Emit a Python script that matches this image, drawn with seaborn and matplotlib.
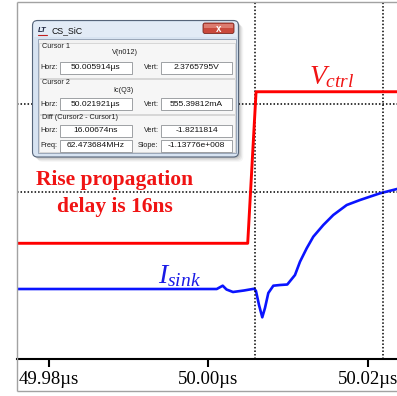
import matplotlib
matplotlib.use("Agg")
import matplotlib.pyplot as plt
import seaborn as sns
import pandas as pd
from matplotlib.patches import FancyBboxPatch, Rectangle

# ---- waveform data (time in microseconds) ----
vctrl_time = [49.975, 50.00495, 50.00600, 50.0245]
vctrl_volts = [0.0, 0.0, 2.58, 2.58]

isink_time = [49.975, 50.00106, 50.00181, 50.00229, 50.00310, 50.00448,
              50.00578, 50.00599, 50.00637, 50.00678, 50.00712, 50.00754,
              50.00817, 50.00901, 50.00992, 50.01089, 50.01152, 50.01236,
              50.01319, 50.01445, 50.01570, 50.01739, 50.01906, 50.02157,
              50.02371, 50.0245]
isink_ma = [0.0, 0.0, 19.0, -2.9, -17.2, -8.6,
            1.7, -11.5, -91.9, -162.5, -109.1, -23.0,
            19.0, 23.0, 25.8, 80.4, 156.8, 233.8,
            300.4, 367.6, 425.0, 482.4, 511.2, 549.7,
            574.4, 578.0]

# cursor readouts
cursor_time = [50.005914, 50.021921]
cursor1_volts = 2.3765795
cursor2_ma = 555.39812

tick_values = [49.98, 50.00, 50.02]
tick_labels = ["49.98µs", "50.00µs", "50.02µs"]

readout_rows = [
    ("Horz:", "50.005914µs", "Vert:", "2.3765795V"),
    ("Horz:", "50.021921µs", "Vert:", "555.39812mA"),
    ("Horz:", "16.00674ns", "Vert:", "-1.8211814"),
    ("Freq:", "62.473684MHz", "Slope:", "-1.13776e+008"),
]

sns.set_style("white")
plt.rcParams["font.family"] = ["Liberation Serif", "DejaVu Sans"]
plt.rcParams["mathtext.fontset"] = "custom"
plt.rcParams["mathtext.it"] = "Liberation Serif:italic"
plt.rcParams["mathtext.rm"] = "Liberation Serif"

W, H = 397, 396
fig = plt.figure(figsize=(W / 100, H / 100), dpi=100)
fig.patch.set_facecolor("white")

# plot area: x from 17 px to the right edge, y from 2 px to 359 px
ax = fig.add_axes([17 / W, (H - 359) / H, (W - 17) / W, (359 - 2) / H])
ax2 = ax.twinx()
ax.set_zorder(ax2.get_zorder() + 1)
ax.patch.set_visible(False)

df_v = pd.DataFrame({"t": vctrl_time, "v": vctrl_volts})
df_i = pd.DataFrame({"t": isink_time, "i": isink_ma})

dot = dict(color="black", lw=1.1, linestyle=(0, (1, 1.3)), zorder=1)
for ct in cursor_time:
    ax.axvline(ct, **dot)
ax.axhline(cursor1_volts, **dot)
ax2.axhline(cursor2_ma, **dot)

sns.lineplot(data=df_v, x="t", y="v", ax=ax, color="#ff0000", lw=2.1,
             estimator=None, zorder=3)
sns.lineplot(data=df_i, x="t", y="i", ax=ax2, color="#0a14ff", lw=1.9,
             estimator=None, zorder=3)

ax.set_xlim(49.975967, 50.023706)
ax.set_ylim(-1.970, 4.108)
ax2.set_ylim(-402.0, 1648.4)

for a in (ax, ax2):
    a.set_xlabel("")
    a.set_ylabel("")
    for s in a.spines.values():
        s.set_visible(False)
ax.spines["bottom"].set_visible(True)
ax.spines["bottom"].set_color("black")
ax.spines["bottom"].set_linewidth(1.5)
ax.set_yticks([])
ax2.set_yticks([])
ax.set_xticks(tick_values)
ax.set_xticklabels(tick_labels)
ax.tick_params(axis="x", direction="out", length=6, width=1.5, pad=3,
               labelsize=13.5, colors="black", bottom=True)

# ---- overlay in pixel coordinates ----
ov = fig.add_axes([0, 0, 1, 1], zorder=10)
ov.set_xlim(0, W)
ov.set_ylim(H, 0)
ov.axis("off")

# window frame of the waveform viewer
frame = dict(color="#a2a2a2", lw=1.0, solid_capstyle="butt")
ov.plot([16.5, 16.5], [1.5, 390.5], **frame)
ov.plot([16.5, W], [1.5, 1.5], **frame)
ov.plot([16.5, W], [390.5, 390.5], **frame)

# annotations
ov.text(115, 185, "Rise propagation", ha="center", va="baseline",
        color="#f01414", fontsize=15.5, fontweight="bold")
ov.text(115, 212, "delay is 16ns", ha="center", va="baseline",
        color="#f01414", fontsize=15.5, fontweight="bold")
ov.text(309, 84, r"$V_{ctrl}$", ha="left", va="baseline",
        color="#f01414", fontsize=20)
ov.text(158, 283, r"$I_{sink}$", ha="left", va="baseline",
        color="#1a1ae6", fontsize=20)

# ---- cursor readout dialog ----
sans = "Liberation Sans"
# drop shadow
for k, al in enumerate([0.10, 0.08, 0.06, 0.04]):
    off = 1.2 + k * 1.2
    ov.add_patch(FancyBboxPatch((32.5 + off, 20.5 + off), 206, 136.5,
                                boxstyle="round,pad=0,rounding_size=5",
                                fc="black", ec="none", alpha=al, zorder=1))
# outer window
ov.add_patch(FancyBboxPatch((32.5, 20.5), 206, 136.5,
                            boxstyle="round,pad=0,rounding_size=5",
                            fc="#d7e3f1", ec="#56657a", lw=0.8, zorder=2))
ov.add_patch(Rectangle((34, 22), 203, 15, fc="#e2ebf6", ec="none", zorder=2))
# title bar
ov.text(37.5, 31, "LT", fontsize=5.5, fontweight="bold", style="italic",
        color="#1d2540", family=sans, va="center", ha="left", zorder=4)
ov.plot([37.5, 46.5], [35, 35], color="#c02020", lw=0.8, zorder=4)
ov.text(51, 31, "CS_SiC", fontsize=6.3, color="#101010", family=sans,
        va="center", ha="left", zorder=4)
ov.add_patch(FancyBboxPatch((203, 23), 31, 10.5,
                            boxstyle="round,pad=0,rounding_size=2",
                            fc="#c9493c", ec="#7a2a22", lw=0.6, zorder=3))
ov.add_patch(Rectangle((204, 23.8), 29, 4, fc="#dc7c70", ec="none", zorder=3))
ov.text(218.5, 28.5, "x", fontsize=7, fontweight="bold", color="white",
        family=sans, ha="center", va="center", zorder=4)
# client area
ov.add_patch(Rectangle((37.5, 39), 198, 114, fc="#f2f2f2", ec="#8d9cb0",
                       lw=0.6, zorder=3))
# group panels
for (y0, y1) in [(42.5, 77.5), (78.5, 113.5), (114.5, 152.0)]:
    ov.add_patch(Rectangle((39, y0), 195.5, y1 - y0, fc="#f6f6f6",
                           ec="#d2d2d2", lw=0.6, zorder=3))

hdr = dict(fontsize=5.2, color="#202020", family=sans, va="center", zorder=5)
ov.text(42, 46.5, "Cursor 1", ha="left", **hdr)
ov.text(125, 53, "V(n012)", ha="center", **hdr)
ov.text(42, 82.5, "Cursor 2", ha="left", **hdr)
ov.text(124, 91, "Ic(Q3)", ha="center", **hdr)
ov.text(42, 117.5, "Diff (Cursor2 - Cursor1)", ha="left", **hdr)

row_y = [67.5, 104, 130.5, 145.5]
for yc, (l1, v1, l2, v2) in zip(row_y, readout_rows):
    ov.text(57.5, yc, l1, ha="right", **hdr)
    ov.text(158.5, yc, l2, ha="right", **hdr)
    for (x0, x1, val) in [(59.5, 132, v1), (161, 232, v2)]:
        ov.add_patch(Rectangle((x0, yc - 6), x1 - x0, 12, fc="white",
                               ec="#8f9296", lw=0.6, zorder=4))
        ov.text((x0 + x1) / 2, yc + 0.3, val, ha="center", va="center",
                fontsize=6.1, color="#101010", family=sans, zorder=5)

fig.savefig("out.png", dpi=100)
